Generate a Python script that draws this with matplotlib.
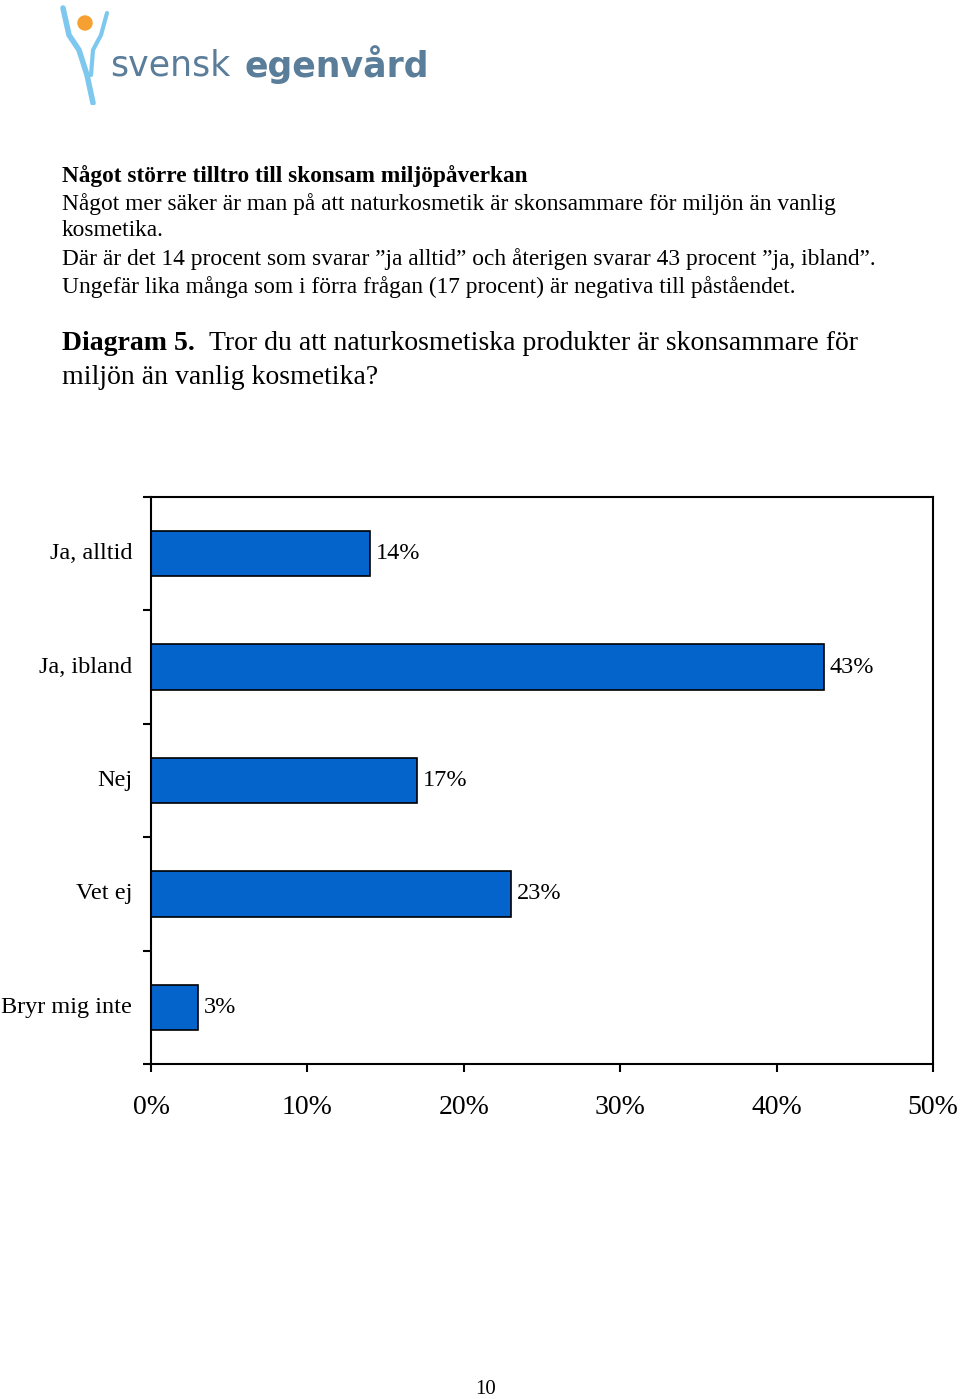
import matplotlib
matplotlib.use("Agg")
import matplotlib.pyplot as plt
from matplotlib.patches import Circle
from matplotlib.ticker import FixedLocator

categories = ["Ja, alltid", "Ja, ibland", "Nej", "Vet ej", "Bryr mig inte"]
values = [14, 43, 17, 23, 3]
xticks = [0, 10, 20, 30, 40, 50]
xticklabels = ["0%", "10%", "20%", "30%", "40%", "50%"]

plt.rcParams["font.family"] = "Liberation Serif"
fig = plt.figure(figsize=(9.6, 13.99), dpi=100)

# Logo
fig.text(110/960, 1-65/1399, "svensk", fontsize=25, color="#5a7d9a", family="DejaVu Sans", va="center")
fig.text(245/960, 1-65/1399, "egenvård", fontsize=25, color="#5a7d9a", family="DejaVu Sans", weight="bold", va="center")
lax = fig.add_axes([55/960, 1-105/1399, 60/960, 100/1399])
lax.set_xlim(0, 60); lax.set_ylim(0, 100); lax.axis("off")
lax.add_patch(Circle((30, 82), 7, color="#f5a030"))
lax.plot([8, 14, 24, 32, 38], [97, 70, 55, 30, 2], color="#7ec8ef", lw=4, solid_capstyle="round")
lax.plot([52, 46, 38, 36], [92, 70, 55, 30], color="#7ec8ef", lw=3, solid_capstyle="round")

lines = [
    (176, "Något större tilltro till skonsam miljöpåverkan", 16.8, "bold"),
    (204, "Något mer säker är man på att naturkosmetik är skonsammare för miljön än vanlig", 16.8, "normal"),
    (231, "kosmetika.", 16.8, "normal"),
    (259, "Där är det 14 procent som svarar \u201dja alltid\u201d och återigen svarar 43 procent \u201dja, ibland\u201d.", 16.8, "normal"),
    (287, "Ungefär lika många som i förra frågan (17 procent) är negativa till påståendet.", 16.8, "normal"),
]
for y, t, s, w in lines:
    fig.text(62/960, 1-y/1399, t, fontsize=s, weight=w, va="center")
fig.text(62/960, 1-344/1399, "Diagram 5.", fontsize=20, weight="bold", va="center")
fig.text(209/960, 1-344/1399, "Tror du att naturkosmetiska produkter är skonsammare för", fontsize=20, va="center")
fig.text(62/960, 1-378/1399, "miljön än vanlig kosmetika?", fontsize=20, va="center")

ax = fig.add_axes([151/960, 1-1064/1399, 782/960, 567/1399])
y = list(range(len(categories)))
ax.barh(y, values, height=0.4, color="#0563CC", edgecolor="black", lw=1.2)
ax.set_xlim(0, 50)
ax.set_ylim(len(categories)-0.5, -0.5)
ax.set_xticks(xticks)
ax.set_xticklabels(xticklabels, fontsize=20)
ax.yaxis.set_major_locator(FixedLocator([i - 0.5 for i in range(len(categories)+1)]))
ax.set_yticklabels([])
for i, c in enumerate(categories):
    ax.text(-1.2, i, c, ha="right", va="center", fontsize=17.5)
for i, v in enumerate(values):
    ax.text(v + 0.4, i, f"{v}%", ha="left", va="center", fontsize=17.5)
ax.tick_params(axis="x", direction="out", length=6, width=1.5, pad=16)
ax.tick_params(axis="y", direction="out", length=6, width=1.5)
for s in ax.spines.values():
    s.set_linewidth(1.5)

fig.text(486/960, 1-1389/1399, "10", fontsize=15, ha="center", va="center")
fig.savefig("out.png", dpi=100)
